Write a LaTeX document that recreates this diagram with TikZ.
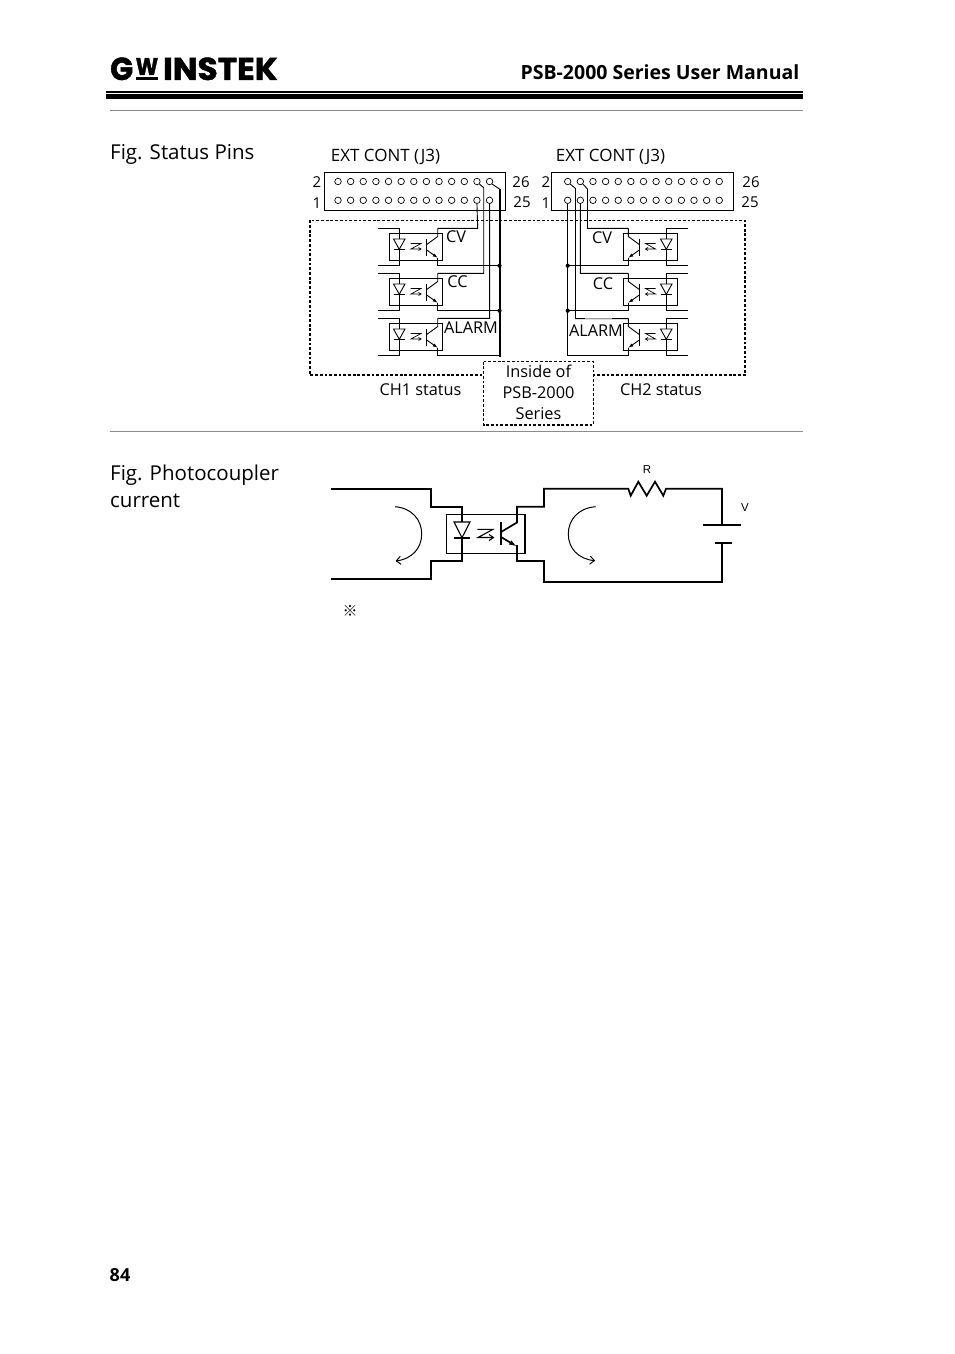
\documentclass[tikz,border=0pt]{standalone}
\usepackage{fontspec}
\setmainfont{Open Sans}
\newfontfamily\arialf{Liberation Sans}
\newfontfamily\logof[BoldFeatures={FakeBold=1.5}]{Poppins}
\newfontfamily\cjkf{Noto Sans CJK JP}
\usetikzlibrary{arrows.meta}
\tikzset{
  wire/.style={line width=0.9pt,line join=miter},
  heavy/.style={line width=1.7pt,line join=miter},
  bus/.style={line width=2pt,line join=miter},
  thin box/.style={line width=0.8pt},
  dashbox/.style={line width=1.5pt,dash pattern=on 2.8pt off 1.9pt},
  pin/.style={circle,draw,line width=0.7pt,inner sep=0pt,minimum size=6.5pt},
  dot/.style={circle,fill=black,inner sep=0pt,minimum size=4.2pt},
  rule/.style={line width=0.9pt,draw=black!45},
  lbl/.style={inner sep=0pt,font=\fontsize{16.3}{18}\selectfont},
  num/.style={inner sep=0pt,font=\fontsize{15}{17}\selectfont},
  extl/.style={inner sep=0pt,font=\fontsize{17}{19}\selectfont},
  head/.style={inner sep=0pt,font=\fontsize{20.5}{24}\selectfont,anchor=base west,align=left},
  tiny/.style={inner sep=0pt,font=\arialf\fontsize{11.5}{13}\selectfont},
}
% left-hand coupler: #1 vertical offset
\newcommand{\couplerA}[1]{
\begin{scope}[shift={(0,#1)}]
  \draw[wire] (377.7,228.3)--(399.3,228.3)--(399.3,265.7)--(377.7,265.7);
  \draw[thin box] (389.3,233.7) rectangle (442.7,260.3);
  \draw[wire,fill=white] (393.5,239)--(405,239)--(399.3,249.3)--cycle;
  \draw[wire] (393.5,249.3)--(405,249.3);
  \draw[line width=0.7pt] (410.5,243.5)--(421,243.5)--(411,249)--(421,249);
  \draw[line width=0.7pt] (418.5,247.5)--(421,249)--(418.5,250.5);
  \draw[wire] (426.7,239)--(426.7,255.7);
  \draw[wire] (426.7,244.5)--(437.7,236.5)--(437.7,228.3);
  \draw[wire,-{Latex[length=5pt,width=3.5pt]}] (426.7,250)--(437.7,257.8);
  \draw[wire] (437.7,257.5)--(437.7,265.7);
\end{scope}}
% right-hand coupler
\newcommand{\couplerB}[1]{
\begin{scope}[shift={(0,#1)}]
  \draw[wire] (688.3,228.3)--(666.3,228.3)--(666.3,265.7)--(688.3,265.7);
  \draw[thin box] (623.3,233.7) rectangle (677.7,260.3);
  \draw[wire,fill=white] (660.5,239)--(672,239)--(666.3,249.3)--cycle;
  \draw[wire] (660.5,249.3)--(672,249.3);
  \draw[line width=0.7pt] (655.5,243.5)--(645.5,243.5)--(655.5,249)--(645.5,249);
  \draw[line width=0.7pt] (648,247.5)--(645.5,249)--(648,250.5);
  \draw[wire] (639.3,239)--(639.3,255.7);
  \draw[wire] (639.3,244.5)--(628.3,236.5)--(628.3,228.3);
  \draw[wire,-{Latex[length=5pt,width=3.5pt]}] (639.3,250)--(628.3,257.8);
  \draw[wire] (628.3,257.5)--(628.3,265.7);
\end{scope}}
\begin{document}
\begin{tikzpicture}[x=1pt,y=-1pt]
\useasboundingbox (0,0) rectangle (954,1354);
\fill[white] (0,0) rectangle (954,1354);

% header
\node[inner sep=0pt,anchor=base west] (logoG) at (110,80) {\resizebox{23pt}{22.5pt}{\logof\bfseries G}};
\node[inner sep=0pt,anchor=base west] (logoW) at (135.5,75) {\resizebox{22.5pt}{17pt}{\logof\bfseries W}};
\fill (136,77) rectangle (158,80);
\node[inner sep=0pt,anchor=base west] (logoI) at (163,80) {\resizebox{114.5pt}{22.5pt}{\logof\bfseries INSTEK}};
\node[inner sep=0pt,anchor=base east,font=\bfseries\fontsize{19.5}{24}\selectfont] (title) at (799.5,79.5) {PSB-2000 Series User Manual};
\fill (106,91) rectangle (803,93.3);
\fill (106,94.4) rectangle (803,98.7);
\draw[rule] (110,110.5)--(803,110.5);
\draw[rule] (110,431.5)--(803,431.5);

\node[head] (figA) at (110,159) {Fig. Status Pins};
\node[head] (figB) at (110,480) {Fig. Photocoupler};
\node[head] (figC) at (110,507) {current};

% dashed enclosure
\draw[dashbox] (310,220.3) rectangle (745,375);

% connectors
\node[extl] (extA) at (385.5,156.5) {EXT CONT (J3)};
\node[extl] (extB) at (610.5,156.5) {EXT CONT (J3)};
\draw[thin box] (324.5,172.3) rectangle (505.7,210.3);
\draw[thin box] (551.7,172.3) rectangle (733.3,210.3);
\foreach \i in {0,...,12}{
  \node[pin] (at\i) at ({338+12.63*\i},181.5) {};
  \node[pin] (ab\i) at ({338+12.63*\i},200.3) {};
  \node[pin] (bt\i) at ({567.7+12.63*\i},181.5) {};
  \node[pin] (bb\i) at ({567.7+12.63*\i},200.3) {};
}
\node[num] (a2) at (317,182) {2};
\node[num] (a1) at (317,203.5) {1};
\node[num] (a26) at (521,182) {26};
\node[num] (a25) at (522,202) {25};
\node[num] (b2) at (546,182) {2};
\node[num] (b1) at (546,203.5) {1};
\node[num] (b26) at (751,182) {26};
\node[num] (b25) at (750,202) {25};

% couplers
\couplerA{0}\couplerA{45}\couplerA{90}
\couplerB{0}\couplerB{45}\couplerB{90}

% CH1 wiring
\draw[wire] (ab11.south)--(477.7,228.3)--(437.7,228.3);
\draw[wire] (at11.south east)--(483.7,187.7)--(483.7,273.3)--(437.7,273.3);
\draw[wire] (ab12.south)--(489.6,318.3)--(437.7,318.3);
\draw[wire] (at12.south east)--(499.5,189);
\draw[bus] (499.5,189)--(499.5,356.7);
\draw[wire] (437.7,265.7)--(499.5,265.7);
\draw[wire] (437.7,310.7)--(499.5,310.7);
\draw[wire] (437.7,355.7)--(499.5,355.7);
\node[dot] (ja1) at (499.5,265.7) {};
\node[dot] (ja2) at (499.5,310.7) {};

% CH2 wiring
\draw[wire] (bt1.south east)--(587.5,189)--(587.5,228.3)--(628.3,228.3);
\draw[wire] (bb1.south)--(580.3,273.3)--(628.3,273.3);
\draw[wire] (bt0.south east)--(575.5,188.5)--(575.5,318.6)--(628.3,318.6);
\draw[wire] (bb0.south)--(567.7,355.7)--(628.3,355.7);
\draw[wire] (567.7,265.7)--(628.3,265.7);
\draw[wire] (567.7,310.7)--(628.3,310.7);
\draw[line width=0.8pt,draw=black!40] (585,318.6)--(612,318.6);
\node[dot] (jb1) at (567.7,265.7) {};
\node[dot] (jb2) at (567.7,310.7) {};

% coupler labels
\node[lbl] (cva) at (456,237) {CV};
\node[lbl] (cca) at (457.5,282) {CC};
\node[lbl] (ala) at (471,327.5) {ALARM};
\node[lbl] (cvb) at (602,238) {CV};
\node[lbl] (ccb) at (603,284) {CC};
\node[lbl] (alb) at (596,330.5) {ALARM};

% inside box
\draw[dashbox,fill=white] (483.7,361.7) rectangle (593.3,425);
\node[lbl] (in1) at (538.5,371.5) {Inside of};
\node[lbl] (in2) at (538.5,392.5) {PSB-2000};
\node[lbl] (in3) at (538.5,413.5) {Series};
\node[lbl] (cha) at (420.5,389.5) {CH1 status};
\node[lbl] (chb) at (661,389.5) {CH2 status};

% photocoupler figure
\draw[heavy] (331,489)--(431,489)--(431,506.7)--(462,506.7)--(462,560.7)--(431,560.7)--(431,578.7)--(331,578.7);
\draw[thin box] (446.3,514.3) rectangle (525,553.3);
\draw[heavy] (525,514.3)--(525,553.3);
\draw[wire,line width=1.1pt,fill=white] (454,522)--(470,522)--(462,537.7)--cycle;
\draw[heavy] (454,537.7)--(470,537.7);
\draw[line width=1.1pt] (477.3,529.3)--(493,529.3)--(478,537.5)--(493,537.5);
\draw[line width=1.1pt] (489,534.5)--(493.5,537.5)--(489,540.5);
\draw[heavy] (501,522)--(501,545.3);
\draw[heavy] (501,532)--(517,522.5)--(517,506.7)--(544,506.7)--(544,488.7)--(628.3,488.7)
  --(630.7,495.7)--(638.3,481.7)--(646.7,495.7)--(655,481.7)--(663.3,495.7)--(666,488.7)
  --(722,488.7)--(722,525);
\draw[heavy,-{Latex[length=8pt,width=5pt]}] (501,537)--(517,546.5);
\draw[heavy] (517,545)--(517,560.7)--(544,560.7)--(544,581.7)--(722,581.7)--(722,543);
\draw[heavy] (703.3,525)--(740.7,525);
\draw[heavy] (715,543)--(731.7,543);
\draw[line width=1pt,-{Straight Barb[length=4.5pt,width=8pt]}] (395,506.7) .. controls (412,508) and (421.7,520) .. (421.7,534) .. controls (421.7,548) and (412,559) .. (395.5,561);
\draw[line width=1pt,-{Straight Barb[length=4.5pt,width=8pt]}] (595.7,506.7) .. controls (578,508) and (568.3,520) .. (568.3,534) .. controls (568.3,548) and (578,559) .. (595.2,560.7);
\node[tiny] (R) at (647,469.5) {R};
\node[tiny] (V) at (745,507.5) {V};
\node[inner sep=0pt,font=\cjkf\fontsize{15}{17}\selectfont] (note) at (350,611) {※};

\node[inner sep=0pt,font=\bfseries\fontsize{18}{20}\selectfont] (page) at (120,1275.5) {84};
\end{tikzpicture}
\end{document}
